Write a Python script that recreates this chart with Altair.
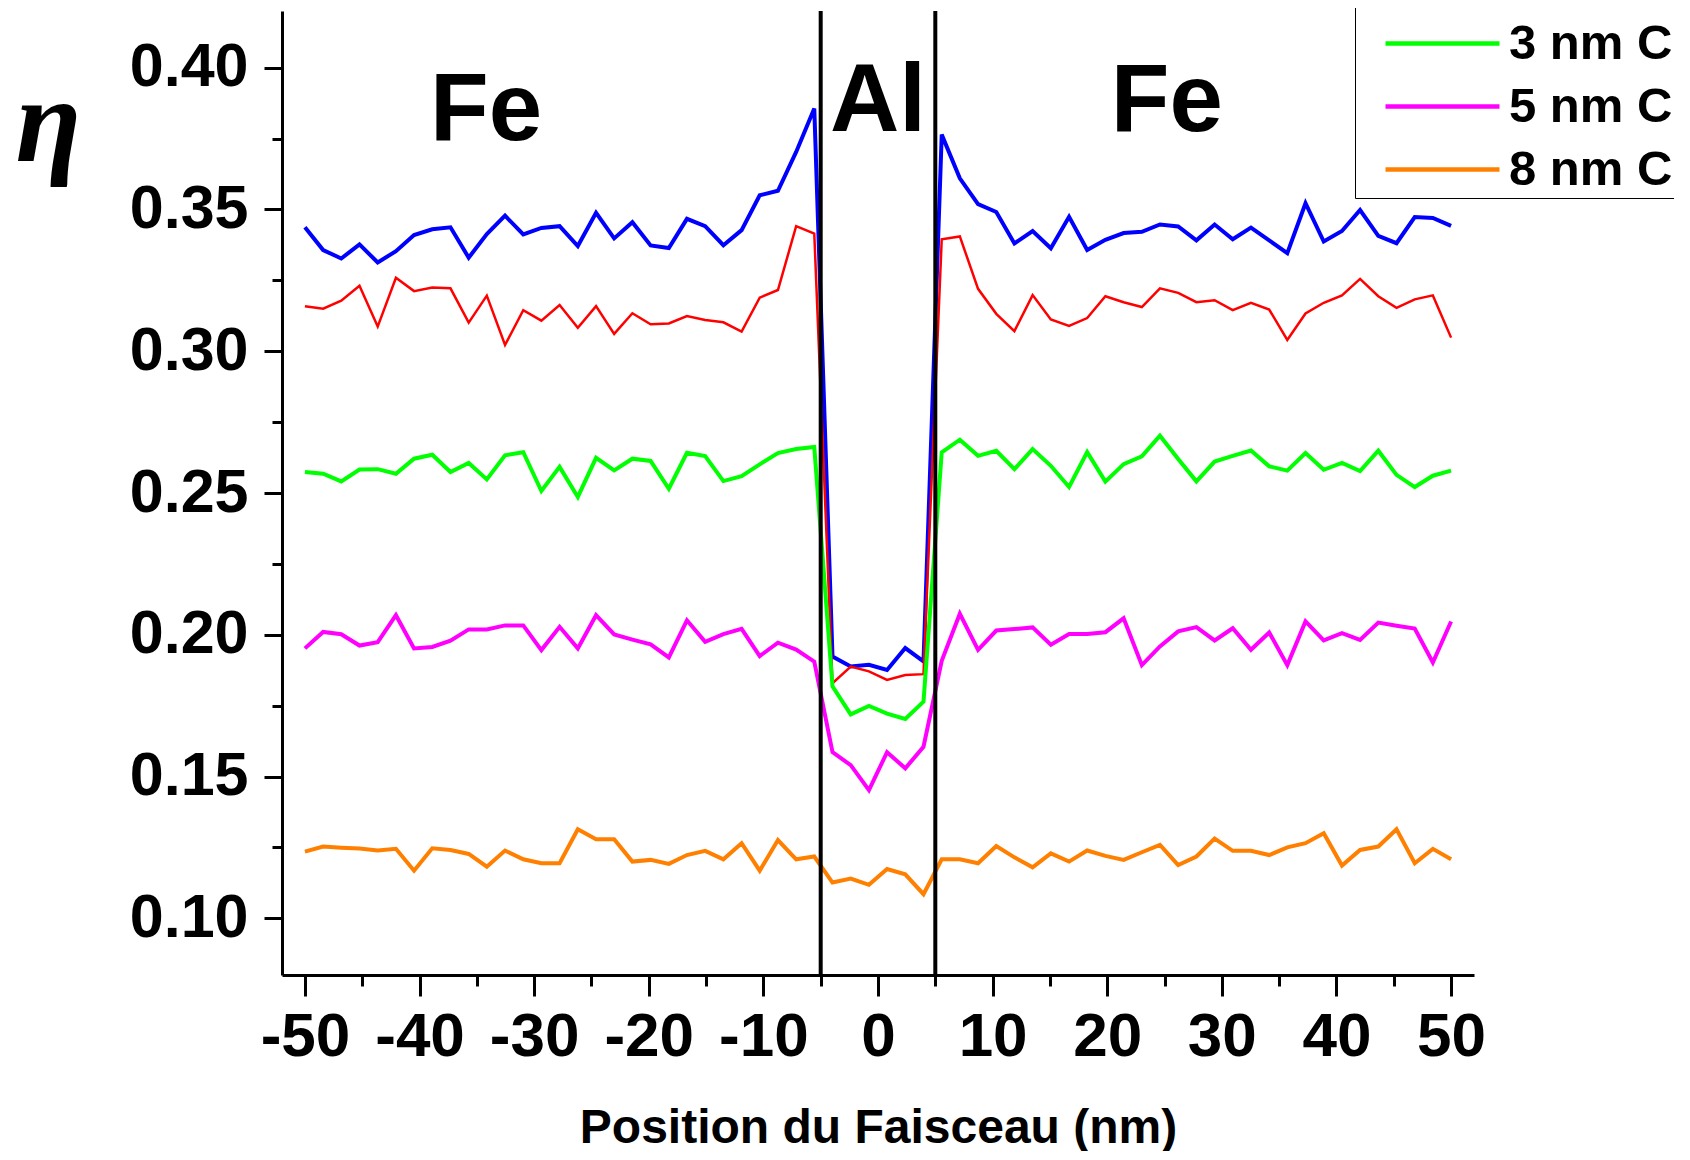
import altair as alt
import pandas as pd

# Beam positions (nm)
positions = [
    -50.00, -48.41, -46.83, -45.24, -43.65, -42.06, -40.48, -38.89, -37.30, -35.71,
    -34.13, -32.54, -30.95, -29.37, -27.78, -26.19, -24.60, -23.02, -21.43, -19.84,
    -18.25, -16.67, -15.08, -13.49, -11.90, -10.32, -8.73, -7.14, -5.56, -3.97,
    -2.38, -0.79, 0.79, 2.38, 3.97, 5.56, 7.14, 8.73, 10.32, 11.90,
    13.49, 15.08, 16.67, 18.25, 19.84, 21.43, 23.02, 24.60, 26.19, 27.78,
    29.37, 30.95, 32.54, 34.13, 35.71, 37.30, 38.89, 40.48, 42.06, 43.65,
    45.24, 46.83, 48.41, 50.00,
]

series_names = ["sans C", "1 nm C", "3 nm C", "5 nm C", "8 nm C"]
series_colors = ["#0000ff", "#ff0000", "#00ff00", "#ff00ff", "#ff8000"]
series_widths = [4.0, 2.5, 4.0, 4.0, 4.0]
legend_entries = ["3 nm C", "5 nm C", "8 nm C"]

eta_blue = [
    0.3437, 0.3357, 0.3327, 0.3377, 0.3313, 0.3353, 0.3410, 0.3430, 0.3437, 0.3330,
    0.3413, 0.3478, 0.3412, 0.3435, 0.3441, 0.3371, 0.3488, 0.3398, 0.3455, 0.3373,
    0.3364, 0.3467, 0.3441, 0.3374, 0.3427, 0.3550, 0.3566, 0.3703, 0.3856,
    0.1923, 0.1888, 0.1894, 0.1876, 0.1953, 0.1906,
    0.3764, 0.3610, 0.3519, 0.3491, 0.3380, 0.3424, 0.3363, 0.3474, 0.3357, 0.3393,
    0.3417, 0.3421, 0.3447, 0.3440, 0.3391, 0.3447, 0.3395, 0.3436, 0.3391, 0.3346,
    0.3522, 0.3387, 0.3424, 0.3498, 0.3407, 0.3381, 0.3473, 0.3470, 0.3442,
]
eta_red = [
    0.3159, 0.3150, 0.3178, 0.3231, 0.3087, 0.3259, 0.3212, 0.3225, 0.3222, 0.3101,
    0.3196, 0.3022, 0.3145, 0.3108, 0.3163, 0.3083, 0.3159, 0.3061, 0.3134, 0.3095,
    0.3098, 0.3124, 0.3110, 0.3102, 0.3069, 0.3189, 0.3216, 0.3441, 0.3415,
    0.1829, 0.1888, 0.1871, 0.1841, 0.1858, 0.1861,
    0.3395, 0.3405, 0.3220, 0.3132, 0.3071, 0.3198, 0.3112, 0.3089, 0.3117, 0.3194,
    0.3173, 0.3156, 0.3222, 0.3206, 0.3173, 0.3180, 0.3145, 0.3171, 0.3147, 0.3040,
    0.3133, 0.3171, 0.3197, 0.3255, 0.3194, 0.3153, 0.3183, 0.3197, 0.3048,
]
eta_green = [
    0.2574, 0.2568, 0.2541, 0.2583, 0.2584, 0.2568, 0.2621, 0.2635, 0.2574, 0.2606,
    0.2548, 0.2633, 0.2644, 0.2507, 0.2592, 0.2486, 0.2624, 0.2580, 0.2621, 0.2613,
    0.2515, 0.2642, 0.2630, 0.2542, 0.2559, 0.2601, 0.2641, 0.2655, 0.2662,
    0.1818, 0.1719, 0.1749, 0.1722, 0.1703, 0.1764,
    0.2643, 0.2688, 0.2631, 0.2649, 0.2584, 0.2655, 0.2596, 0.2521, 0.2644, 0.2540,
    0.2602, 0.2629, 0.2702, 0.2620, 0.2541, 0.2611, 0.2631, 0.2650, 0.2594, 0.2579,
    0.2641, 0.2582, 0.2606, 0.2577, 0.2649, 0.2564, 0.2521, 0.2561, 0.2579,
]
eta_magenta = [
    0.1952, 0.2010, 0.2002, 0.1962, 0.1974, 0.2069, 0.1952, 0.1957, 0.1979, 0.2019,
    0.2019, 0.2033, 0.2033, 0.1946, 0.2028, 0.1952, 0.2069, 0.2001, 0.1983, 0.1966,
    0.1920, 0.2051, 0.1975, 0.2002, 0.2021, 0.1925, 0.1972, 0.1948, 0.1905,
    0.1586, 0.1540, 0.1452, 0.1586, 0.1529, 0.1605,
    0.1908, 0.2074, 0.1947, 0.2015, 0.2020, 0.2026, 0.1965, 0.2003, 0.2003, 0.2009,
    0.2058, 0.1893, 0.1959, 0.2012, 0.2027, 0.1980, 0.2023, 0.1947, 0.2008, 0.1893,
    0.2047, 0.1980, 0.2006, 0.1982, 0.2043, 0.2032, 0.2022, 0.1902, 0.2047,
]
eta_orange = [
    0.1235, 0.1253, 0.1249, 0.1246, 0.1239, 0.1245, 0.1168, 0.1247, 0.1241, 0.1227,
    0.1182, 0.1239, 0.1208, 0.1194, 0.1194, 0.1314, 0.1279, 0.1279, 0.1200, 0.1206,
    0.1192, 0.1223, 0.1238, 0.1208, 0.1265, 0.1168, 0.1276, 0.1208, 0.1218,
    0.1126, 0.1140, 0.1118, 0.1174, 0.1155, 0.1085,
    0.1208, 0.1208, 0.1194, 0.1255, 0.1215, 0.1180, 0.1229, 0.1200, 0.1239, 0.1220,
    0.1206, 0.1233, 0.1259, 0.1188, 0.1218, 0.1281, 0.1238, 0.1238, 0.1223, 0.1250,
    0.1265, 0.1300, 0.1186, 0.1241, 0.1253, 0.1314, 0.1194, 0.1245, 0.1208,
]

interface_positions = [-5, 5]

region_labels = ["Fe", "Al", "Fe"]
region_label_x = [-34.2, 0.0, 25.2]
region_label_y = [0.3746, 0.3776, 0.3776]

x_ticks = list(range(-50, 51, 5))
y_ticks = [0.10, 0.125, 0.15, 0.175, 0.20, 0.225, 0.25, 0.275, 0.30, 0.325, 0.35, 0.375, 0.40]

# ---- build tables ----
all_series = [eta_blue, eta_red, eta_green, eta_magenta, eta_orange]
rows = []
for name, w, vals in zip(series_names, series_widths, all_series):
    for x, v in zip(positions, vals):
        rows.append({"pos": x, "eta": v, "serie": name, "sw": w})
df = pd.DataFrame(rows)
df_if = pd.DataFrame({"pos": interface_positions})
df_lab = pd.DataFrame({"txt": region_labels, "pos": region_label_x, "eta": region_label_y})

x_scale = alt.Scale(domain=[-52, 52], nice=False, zero=False)
y_scale = alt.Scale(domain=[0.08, 0.42], nice=False, zero=False)

major_y = "abs(datum.value*20 - round(datum.value*20)) < 0.001"
major_x = "datum.value % 10 == 0"

x_axis = alt.Axis(
    values=x_ticks,
    labelExpr="datum.value % 10 == 0 ? '' + datum.value : ''",
    tickSize={"condition": {"test": major_x, "value": 21}, "value": 11},
    tickWidth=3, tickColor="black", domainWidth=3, domainColor="black",
    labelFont="Liberation Sans", labelFontWeight="bold", labelFontSize=62,
    labelColor="black", labelPadding=10, labelFlush=False, labelOverlap=False,
    grid=False,
    title="Position du Faisceau (nm)", titleFont="Liberation Sans",
    titleFontWeight="bold", titleFontSize=48, titleColor="black", titlePadding=37,
)
y_axis = alt.Axis(
    values=y_ticks,
    labelExpr=f"{major_y} ? format(datum.value, '.2f') : ''",
    tickSize={"condition": {"test": major_y, "value": 18}, "value": 10},
    tickWidth=3, tickColor="black", domainWidth=3, domainColor="black",
    labelFont="Liberation Sans", labelFontWeight="bold", labelFontSize=61,
    labelColor="black", labelPadding=16, labelOverlap=False, labelFlush=False,
    grid=False,
    title="η", titleAngle=0, titleAlign="center", titleBaseline="alphabetic",
    titleX=-234, titleY=149, titleFont="Liberation Serif", titleFontStyle="italic",
    titleFontWeight="bold", titleFontSize=120, titleColor="black",
)

legend = alt.Legend(
    title=" ", titleFontSize=40, titlePadding=0,
    orient="none", legendX=1073, legendY=-43,
    values=legend_entries,
    symbolType="M-1.9,0H1.9", symbolSize=3600, symbolStrokeWidth=4.5,
    symbolOffset=52, labelOffset=34, padding=3, rowPadding=5,
    labelLimit=400,
    labelFont="Liberation Sans", labelFontWeight="bold", labelFontSize=49,
    labelColor="black", strokeColor="black", fillColor="white",
)

lines = alt.Chart(df).mark_line().encode(
    x=alt.X("pos:Q", scale=x_scale, axis=x_axis),
    y=alt.Y("eta:Q", scale=y_scale, axis=y_axis),
    color=alt.Color("serie:N", scale=alt.Scale(domain=series_names, range=series_colors),
                    legend=legend),
    strokeWidth=alt.StrokeWidth("sw:Q", scale=None, legend=None),
    detail="serie:N",
)

rules = alt.Chart(df_if).mark_rule(color="black", strokeWidth=4).encode(
    x=alt.X("pos:Q", scale=x_scale),
)

labels = alt.Chart(df_lab).mark_text(
    font="Liberation Sans", fontWeight="bold", fontSize=96, color="black",
    align="center", baseline="alphabetic",
).encode(
    x=alt.X("pos:Q", scale=x_scale),
    y=alt.Y("eta:Q", scale=y_scale),
    text="txt:N",
)

chart = alt.layer(lines, rules, labels).properties(
    width=1192, height=964,
    autosize=alt.AutoSizeParams(type="none"),
    padding={"left": 274, "top": 3, "right": 200, "bottom": 176},
    background="white",
).configure_view(stroke=None)

chart.save("out.html", embed_options={"renderer": "svg", "actions": False})
